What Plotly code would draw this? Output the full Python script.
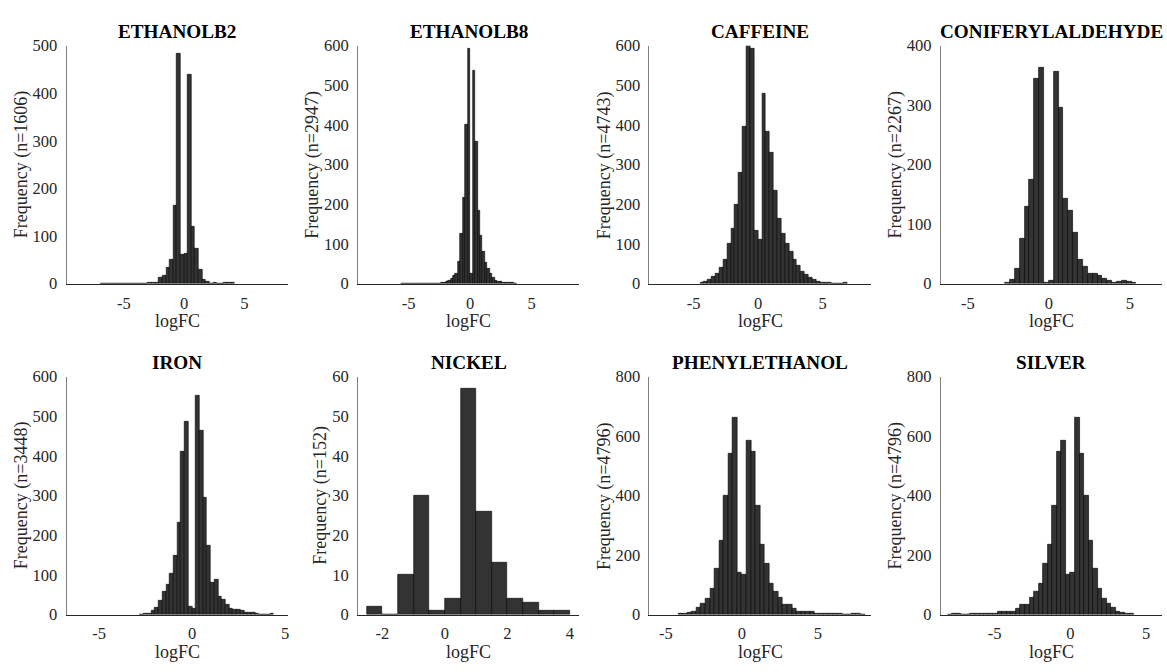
import plotly.graph_objects as go

# ---------------- data ----------------
titles = ["ETHANOLB2", "ETHANOLB8", "CAFFEINE", "CONIFERYLALDEHYDE",
          "IRON", "NICKEL", "PHENYLETHANOL", "SILVER"]
n_genes = [1606, 2947, 4743, 2267, 3448, 152, 4796, 4796]

bin_width = [0.3, 0.2, 0.3, 0.3, 0.2, 0.5, 0.3, 0.3]
first_edge = [-6.9, -5.6, -4.5, -2.7, -2.8, -2.5, -4.2, -8.1]

counts_ethanolb2 = [1, 0, 0, 1, 0, 1, 0, 0, 0, 1, 0, 0, 1, 2, 2, 3, 12, 16, 33, 50,
                    165, 484, 62, 64, 440, 120, 74, 29, 9, 4, 1, 3, 1, 0, 2, 2, 3]
counts_ethanolb8 = [1, 0, 0, 0, 0, 1, 0, 0, 0, 1, 0, 0, 1, 0, 0, 1, 2, 3, 4, 8,
                    12, 20, 25, 55, 125, 218, 400, 592, 25, 536, 358, 185, 121, 80,
                    52, 38, 25, 16, 9, 6, 4, 2, 2, 2, 3, 2, 1]
counts_caffeine = [2, 4, 10, 18, 25, 40, 60, 100, 140, 200, 280, 395, 602, 592, 133,
                   110, 480, 383, 330, 235, 163, 125, 100, 80, 60, 45, 30, 22, 15, 10,
                   5, 3, 2, 2, 1, 1, 0, 2]
counts_coniferylaldehyde = [2, 7, 25, 75, 129, 175, 345, 363, 2, 5, 357, 295, 143, 123,
                            85, 41, 28, 17, 17, 13, 9, 5, 1, 3, 5, 3, 1]
counts_iron = [1, 3, 3, 10, 19, 35, 57, 75, 104, 148, 231, 411, 487, 20, 15, 551, 465,
               294, 175, 80, 88, 45, 37, 25, 16, 13, 14, 10, 5, 6, 6, 2, 0, 0, 0, 3]
counts_nickel = [2, 0, 10, 30, 1, 4, 57, 26, 13, 4, 3, 1, 1]
counts_phenylethanol = [2, 5, 8, 10, 25, 38, 55, 89, 155, 250, 400, 540, 663, 140, 133,
                        585, 548, 367, 237, 171, 105, 77, 57, 34, 34, 20, 12, 11, 10, 12,
                        5, 3, 4, 3, 3, 2, 1, 0, 3, 3, 1]
counts_silver = [1, 3, 3, 0, 1, 2, 3, 3, 4, 3, 5, 12, 10, 11, 12, 20, 34, 34, 57, 77,
                 105, 171, 237, 367, 548, 585, 133, 140, 663, 540, 400, 250, 155, 89,
                 55, 38, 25, 10, 8, 5, 2]

all_counts = [counts_ethanolb2, counts_ethanolb8, counts_caffeine,
              counts_coniferylaldehyde, counts_iron, counts_nickel,
              counts_phenylethanol, counts_silver]

x_ranges = [[-9.75, 8.6], [-9.13, 8.88], [-8.42, 8.72], [-6.66, 7.0],
            [-6.75, 5.15], [-2.78, 4.3], [-6.08, 8.48], [-8.54, 6.06]]
y_max = [500, 600, 600, 400, 600, 60, 800, 800]
y_step = [100, 100, 100, 100, 100, 10, 200, 200]
x_ticks = [[-5, 0, 5]] * 5 + [[-2, 0, 2, 4]] + [[-5, 0, 5]] * 2

# ---------------- layout geometry ----------------
W, H = 1167, 672
col_left = [66.6, 358.3, 650.0, 941.7]
plot_w = 221.5
row_top = [37.7, 378.3]
plot_h = 245.0

FONT = "Liberation Serif"
TXT = "#262626"

fig = go.Figure()
annotations = []

for i in range(8):
    r, c = divmod(i, 4)
    ax = "" if i == 0 else str(i + 1)
    w = bin_width[i]
    cnt = all_counts[i]
    centers = [first_edge[i] + w * (k + 0.5) for k in range(len(cnt))]
    fig.add_trace(go.Bar(
        x=centers, y=cnt, width=[w] * len(cnt),
        marker=dict(color="#333333", line=dict(color="#000000", width=0.6)),
        xaxis="x" + ax, yaxis="y" + ax, showlegend=False,
        hovertemplate="logFC %{x}<br>count %{y}<extra></extra>",
    ))

    x0 = col_left[c] / W
    x1 = (col_left[c] + plot_w) / W
    ytop = 1 - row_top[r] / H
    ybot = 1 - (row_top[r] + plot_h) / H

    fig.update_layout(**{
        "xaxis" + ax: dict(
            domain=[x0, x1], range=x_ranges[i], anchor="y" + ax,
            tickvals=x_ticks[i], ticktext=[str(v) for v in x_ticks[i]],
            ticks="", showgrid=False, zeroline=False,
            showline=True, linecolor="#262626", linewidth=1,
            tickfont=dict(family=FONT, size=16.5, color=TXT),
            ticklabelstandoff=4, fixedrange=True,
        ),
        "yaxis" + ax: dict(
            domain=[ybot, ytop], range=[0, y_max[i]], anchor="x" + ax,
            tickvals=list(range(0, y_max[i] + 1, y_step[i])), ticks="",
            showgrid=False, zeroline=False,
            showline=True, linecolor="#7f7f7f", linewidth=1,
            tickfont=dict(family=FONT, size=16.5, color=TXT),
            ticklabelstandoff=5, fixedrange=True,
        ),
    })

    xc = (col_left[c] + plot_w / 2) / W
    annotations.append(dict(
        text="<b>" + titles[i] + "</b>", x=xc, y=1 - (row_top[r] - 15) / H,
        xref="paper", yref="paper", xanchor="center", yanchor="middle",
        showarrow=False, font=dict(family=FONT, size=19.2, color="#000000"),
    ))
    annotations.append(dict(
        text="logFC", x=xc, y=1 - (row_top[r] + plot_h + 38) / H,
        xref="paper", yref="paper", xanchor="center", yanchor="middle",
        showarrow=False, font=dict(family=FONT, size=18, color=TXT),
    ))
    off = 37 if y_max[i] < 100 else 45
    annotations.append(dict(
        text="Frequency (n=%d)" % n_genes[i],
        x=(col_left[c] - off) / W, y=1 - (row_top[r] + plot_h / 2) / H,
        xref="paper", yref="paper", xanchor="center", yanchor="middle",
        textangle=-90, showarrow=False,
        font=dict(family=FONT, size=18, color=TXT),
    ))

fig.update_layout(
    width=W, height=H,
    margin=dict(l=0, r=0, t=0, b=0),
    paper_bgcolor="white", plot_bgcolor="white",
    bargap=0, annotations=annotations,
)

fig.write_html("out.html", include_plotlyjs=True, config={"displayModeBar": False})
